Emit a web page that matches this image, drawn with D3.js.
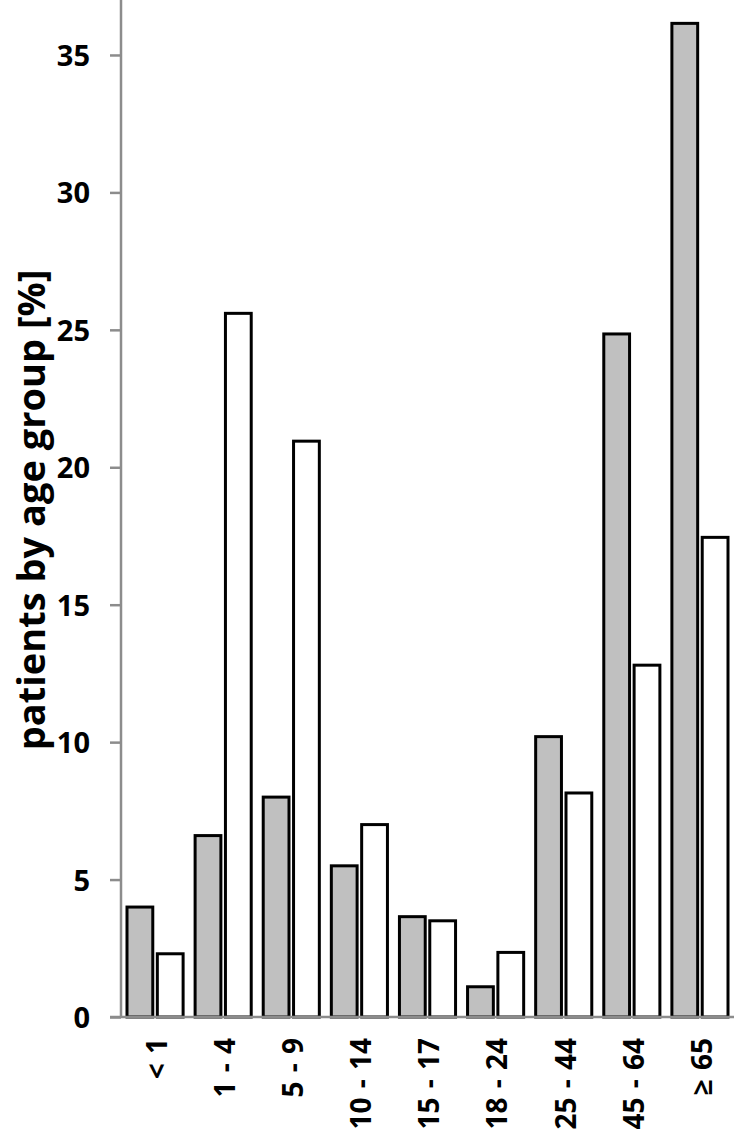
<!DOCTYPE html>
<html>
<head>
<meta charset="utf-8">
<script src="https://cdn.jsdelivr.net/npm/d3@7"></script>
<style>
  body { margin: 0; background: #fff; }
  svg text { font-family: "Open Sans", Lato, sans-serif; font-weight: bold; fill: #000; }
</style>
</head>
<body>
<svg width="734" height="1131"></svg>
<script>
const ageGroups = ['< 1', '1 - 4', '5 - 9', '10 - 14', '15 - 17', '18 - 24', '25 - 44', '45 - 64', '≥ 65'];
const grayValues = [4.0, 6.6, 8.0, 5.5, 3.65, 1.1, 10.2, 24.85, 36.15];
const whiteValues = [2.3, 25.6, 20.95, 7.0, 3.5, 2.35, 8.15, 12.8, 17.45];
const yTicks = [0, 5, 10, 15, 20, 25, 30, 35];

const svg = d3.select('svg');

const x0 = d3.scaleBand()
  .domain(ageGroups)
  .range([121, 734])
  .padding(0);

const x1 = d3.scaleBand()
  .domain(['gray', 'white'])
  .range([6, x0.bandwidth() - 6])
  .paddingInner(0.15);

const y = d3.scaleLinear()
  .domain([0, 37])
  .range([1017, 0]);

const rows = ageGroups.map((g, i) => ({
  group: g,
  bars: [
    { key: 'gray', value: grayValues[i] },
    { key: 'white', value: whiteValues[i] }
  ]
}));

// bars
const groups = svg.append('g')
  .selectAll('g')
  .data(rows)
  .join('g')
  .attr('transform', (d) => `translate(${x0(d.group)},0)`);

groups.selectAll('rect')
  .data((d) => d.bars)
  .join('rect')
  .attr('x', (d) => x1(d.key))
  .attr('y', (d) => y(d.value))
  .attr('width', x1.bandwidth())
  .attr('height', (d) => y(0) - y(d.value))
  .attr('fill', (d) => (d.key === 'gray' ? '#c0c0c0' : '#fff'))
  .attr('stroke', '#000')
  .attr('stroke-width', 3);

// y axis
const yAxis = svg.append('g')
  .attr('transform', 'translate(121,0)')
  .call(d3.axisLeft(y).tickValues(yTicks).tickSize(11).tickPadding(20));

yAxis.select('.domain').remove();
yAxis.selectAll('.tick line').attr('stroke', '#8c8c8c').attr('stroke-width', 2.5);
yAxis.selectAll('.tick text').style('font-size', '29px').attr('dy', '0.36em');

svg.append('line')
  .attr('x1', 121).attr('x2', 121)
  .attr('y1', 0).attr('y2', y(0))
  .attr('stroke', '#8c8c8c')
  .attr('stroke-width', 2.5);

// x axis
svg.append('line')
  .attr('x1', 110).attr('x2', 734)
  .attr('y1', y(0)).attr('y2', y(0))
  .attr('stroke', '#8c8c8c')
  .attr('stroke-width', 2.5);

svg.append('g')
  .selectAll('text')
  .data(ageGroups)
  .join('text')
  .attr('transform', (d) => `translate(${x0(d) + x0.bandwidth() / 2 + 2},1038) rotate(-90)`)
  .attr('text-anchor', 'end')
  .attr('dy', '0.35em')
  .style('font-size', '28px')
  .style('word-spacing', '2px')
  .text((d) => d);

// y axis title
svg.append('text')
  .attr('transform', 'translate(32,510) rotate(-90)')
  .attr('text-anchor', 'middle')
  .attr('dy', '0.35em')
  .style('font-size', '38px')
  .text('patients by age group [%]');
</script>
</body>
</html>
